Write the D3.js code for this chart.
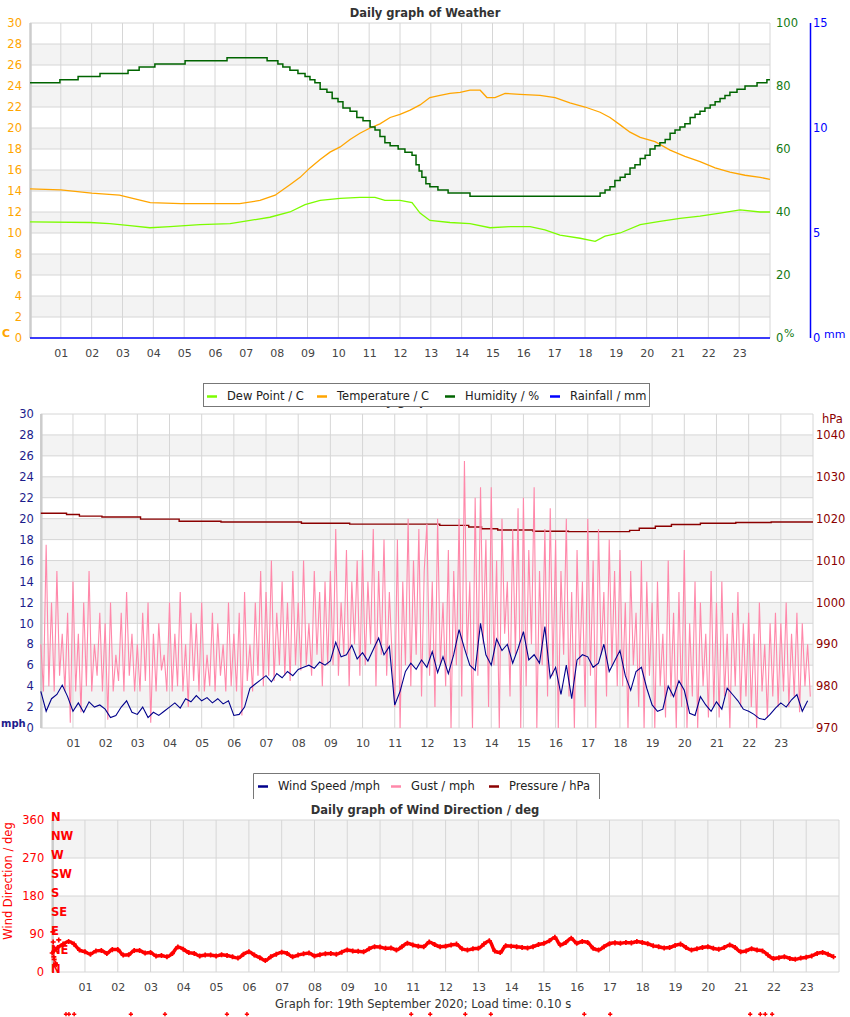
<!DOCTYPE html>
<html><head><meta charset="utf-8">
<script src="https://cdn.jsdelivr.net/npm/d3@7"></script>
<style>body{margin:0;background:#fff}svg{display:block}text{font-family:"DejaVu Sans",sans-serif}</style>
</head><body>
<svg id="c" width="850" height="1017"></svg>
<script>
// ---------- DATA ----------
const hourLabels = ["01","02","03","04","05","06","07","08","09","10","11","12","13","14","15","16","17","18","19","20","21","22","23"];
const hourTicks = [1,2,3,4,5,6,7,8,9,10,11,12,13,14,15,16,17,18,19,20,21,22,23];

// Weather chart
const tempTicks = [0,2,4,6,8,10,12,14,16,18,20,22,24,26,28,30];
const humTicks = [0,20,40,60,80,100];
const rainTicks = [0,5,10,15];

const tempHours = [0,1,2,2.9,3.6,3.9,4.9,5.8,6.8,7.46,7.95,8.43,8.76,9.08,9.41,9.73,10.06,10.38,10.7,11.03,11.35,11.68,12.0,12.33,12.65,12.97,13.3,13.62,13.95,14.27,14.6,14.82,15.08,15.41,15.89,16.54,17.03,17.51,18.0,18.49,18.81,19.14,19.46,19.79,20.27,20.76,21.24,21.73,22.22,22.7,23.19,23.68,24];
const tempValues = [14.2,14.1,13.8,13.6,13.1,12.9,12.8,12.8,12.8,13.1,13.6,14.6,15.3,16.2,17.0,17.7,18.2,18.9,19.5,20.0,20.4,21.0,21.3,21.7,22.2,22.9,23.1,23.3,23.4,23.6,23.6,22.9,22.9,23.3,23.2,23.1,22.9,22.4,22.0,21.5,21.0,20.3,19.6,19.1,18.7,17.9,17.3,16.8,16.2,15.8,15.5,15.3,15.1];

const dewHours = [0,1.95,2.59,3.24,3.89,4.54,5.51,6.49,7.14,7.78,8.43,8.92,9.41,10.06,10.7,11.19,11.51,12.0,12.39,12.65,12.97,13.62,14.27,14.92,15.57,16.22,16.7,17.19,17.84,18.33,18.65,19.14,19.79,20.43,21.08,21.73,22.38,23.03,23.68,24];
const dewValues = [11.05,11.0,10.9,10.7,10.5,10.6,10.8,10.9,11.2,11.5,12.0,12.7,13.1,13.3,13.4,13.4,13.1,13.1,12.9,11.9,11.2,11.0,10.9,10.5,10.6,10.6,10.3,9.8,9.5,9.2,9.7,10.0,10.8,11.1,11.4,11.6,11.9,12.2,12.0,12.0];

const humHours = [0,0.97,1.56,2.27,3.18,3.54,4.05,5.03,6.39,7.69,8.04,8.2,8.43,8.69,8.92,9.08,9.24,9.41,9.63,9.8,9.99,10.15,10.38,10.6,10.8,11.03,11.19,11.35,11.51,11.68,11.94,12.16,12.39,12.52,12.62,12.71,12.84,12.97,13.23,13.56,14.27,18.49,18.65,18.81,18.97,19.14,19.3,19.46,19.62,19.79,19.95,20.11,20.27,20.43,20.6,20.76,20.92,21.08,21.24,21.41,21.57,21.73,21.89,22.06,22.22,22.38,22.54,22.7,22.93,23.19,23.58,23.9,24];
const humValues = [81,82,83,84,85,86,87,88,89,88,87,86,85,84,83,82,81,79,78,76,75,73,72,70,69,67,66,64,62,61,60,59,58,55,53,51,49,48,47,46,45,46,47,48,50,51,52,54,55,57,58,60,61,62,63,65,66,67,68,70,71,72,73,74,75,76,77,78,79,80,81,82,82];

const rainHours = [0,24];
const rainValues = [0,0];

// Wind chart
const speedTicks = [0,2,4,6,8,10,12,14,16,18,20,22,24,26,28,30];
const pressTicks = [970,980,990,1000,1010,1020,1030,1040];

// wind speed, one reading every 10 minutes
const windSpeed = [
 3.5,1.6,2.8,3.2,4.1,3.0,
 1.6,2.4,1.5,2.5,2.0,2.2,
 1.8,1.0,1.2,2.0,2.6,1.5,
 1.3,2.0,1.0,1.5,1.2,1.6,
 2.0,2.4,1.9,2.8,2.5,3.1,
 2.6,2.9,2.4,2.8,2.3,2.6,
 1.2,1.3,2.0,3.8,4.2,4.6,
 5.0,4.4,5.2,4.8,5.4,5.0,
 5.6,5.8,6.0,5.7,6.3,6.0,
 6.4,8.2,6.8,7.0,7.9,6.6,
 7.2,6.4,7.5,8.6,7.0,7.8,
 2.2,3.5,5.4,6.2,5.6,6.5,
 5.8,7.3,5.3,6.8,5.2,7.0,
 9.4,7.6,6.0,5.5,10.0,7.0,
 6.0,8.5,7.4,8.0,6.2,7.6,
 9.2,6.5,7.0,6.2,9.7,4.8,
 5.8,3.2,6.0,2.8,6.5,7.0,
 6.8,5.8,6.2,8.0,5.4,6.4,
 7.4,5.0,3.6,5.4,5.8,3.8,
 2.2,1.6,1.8,4.0,3.0,4.5,
 3.6,1.4,1.2,3.0,2.2,1.6,
 2.5,1.8,3.8,3.2,2.6,1.8,
 1.6,1.3,0.9,0.8,1.3,1.9,
 2.4,2.0,2.7,3.2,1.6,2.6];

// gust, one reading every 5 minutes
const gust = [
 8,3.5,17.5,4,12,3.5,15,5,9,3.5,11,0.5,
 14,3.5,9,1.5,12,4,15,3.5,8,5,11,3.5,
 10,0.8,12,3.5,7,4.5,11,3.5,13,5,9,3.5,
 8,3.5,11,4.5,12,0.5,9,3.5,10,5.5,7,3.5,
 12,3.5,9,4,13,3.5,8,2,11,4.5,10,3.5,
 12,3.5,7,4,11,3.5,10,5,8,3.5,12,4,
 9,3.5,11,1.2,13,4.5,8,3.5,12,5,15,4,
 13,5,16,4.5,11,6,14,5,12,4.5,15,6,
 12,5.5,16,6,10,5,15,7,13,4,14,6,
 15,6,19,5,12,7,17,4,14,8,16,5,
 17,6,14,8,19,4,15,7,18,5,13,7,
 2,18,0,14,6,20,4,16,7,19,3,15,
 19.5,5,14,2,20,6,12,4,17,0,15,6,
 20,3,25.5,7,14,0,22,5,23,8,18,2,
 23,6,16,0,20,9,14,3,19,7,21,0,
 22,4,17,8,23,0,15,6,19,3,21,5,
 18,0,15,7,20,3,13,0,17,6,14,2,
 20,5,16,0,19,7,13,3,18,6,15,4,
 17,4,12,0,15,6,11,2,16,0,14,5,
 12,0,14,4,9,1,16,3,11,0,13,2,
 17,0,10,3,14,0,12,4,9,1,15,2,
 12,1,14,3,9,0,11,4,13,2,10,3,
 11,2,9,0,12,3.5,8,1,10,3,11,2,
 10,3.5,12,2,9,3,11,1.5,10,4,8,3];

const pressHours = [0,0.8,1.2,1.9,3.1,4.3,5.6,6.8,8.1,9.6,11.2,12.4,13.3,13.7,14.2,15.3,16.4,17.4,18.3,18.6,19.1,19.6,20.5,21.6,22.7,24];
const pressValues = [1021.3,1021.0,1020.6,1020.4,1019.9,1019.4,1019.2,1019.2,1018.9,1018.7,1018.7,1018.4,1018.0,1017.6,1017.3,1017.0,1016.9,1016.9,1017.2,1017.7,1018.2,1018.6,1018.9,1019.1,1019.2,1019.2];

// Wind direction chart
const dirTicks = [0,90,180,270,360];
const compassLabels = ["N","NE","E","SE","S","SW","W","NW","N"];
const compassDegrees = [0,45,90,135,180,225,270,315,360];
// wind direction, one reading every 10 minutes
const windDir = [
 45,58,66,72,66,52,
 48,42,50,51,44,53,
 53,40,41,51,51,45,
 46,38,39,36,44,59,
 54,46,44,38,40,40,
 38,41,39,36,33,42,
 48,40,34,27,36,42,
 47,44,36,40,43,45,
 38,41,43,44,42,47,
 52,50,49,48,55,60,
 59,56,57,52,60,68,
 64,61,60,71,65,60,
 61,64,66,55,52,55,
 56,66,74,50,46,62,
 61,60,58,57,60,65,
 68,74,82,64,70,80,
 68,72,70,56,52,60,
 67,69,68,70,69,72,
 70,67,62,60,57,58,
 63,66,58,52,55,58,
 60,56,54,58,64,58,
 48,50,55,52,50,40,
 32,34,36,32,30,33,
 35,38,44,46,42,36];
const dirStartHours = [0.02,0.03,0.05,0.06,0.1,0.12,0.2];
const dirStartValues = [95,71,36,30,21,17,76];
const dirOutlierHours = [0.42,0.51,0.67,2.40,3.44,5.33,5.94,10.95,11.53,12.6,13.38,16.23,17.02,21.29,21.6,21.75,21.96];
const dirOutlierValue = -100;

// ---------- DRAW ----------
const svg = d3.select("#c");
const GRID = "#d6d6d6", BAND = "#f3f3f3";

function panel(g, x, y, ticks, bandPairs, xl, xr) {
  bandPairs.forEach(([a,b]) => {
    g.append("rect").attr("x", xl).attr("width", xr-xl)
      .attr("y", y(b)).attr("height", y(a)-y(b)).attr("fill", BAND);
  });
  ticks.forEach(t => g.append("line").attr("x1", xl).attr("x2", xr)
    .attr("y1", y(t)).attr("y2", y(t)).attr("stroke", GRID).attr("stroke-width", 1));
  hourTicks.forEach(h => g.append("line").attr("x1", x(h)).attr("x2", x(h))
    .attr("y1", y.range()[1]).attr("y2", y.range()[0]).attr("stroke", GRID).attr("stroke-width", 1));
  g.append("line").attr("x1", xr).attr("x2", xr).attr("y1", y.range()[1]).attr("y2", y.range()[0]).attr("stroke", GRID);
  g.append("line").attr("x1", xl+0.5).attr("x2", xl+0.5).attr("y1", y.range()[1]).attr("y2", y.range()[0]).attr("stroke", "#cccccc").attr("stroke-width", 2.5);
}

function hourAxis(g, x, yPos) {
  const ax = d3.axisBottom(x).tickValues(hourTicks).tickFormat((d,i) => hourLabels[i]).tickSize(0).tickPadding(0);
  const a = g.append("g").attr("transform", `translate(0,${yPos})`).call(ax);
  a.select(".domain").remove();
  a.selectAll("text").attr("fill", "#444").attr("font-size", 11).attr("dy", "0.35em")
    .attr("font-family", "DejaVu Sans, sans-serif");
}

function sideAxis(g, axisFn, scale, ticks, xPos, color, pad, fmt) {
  const ax = axisFn(scale).tickValues(ticks).tickSize(0).tickPadding(pad).tickFormat(fmt || d3.format("d"));
  const a = g.append("g").attr("transform", `translate(${xPos},0)`).call(ax);
  a.select(".domain").remove();
  a.selectAll("text").attr("fill", color).attr("font-size", 11.5).attr("font-family", "DejaVu Sans, sans-serif");
  return a;
}

function title(txt, y) {
  svg.append("text").attr("x", 425).attr("y", y).attr("text-anchor", "middle")
    .attr("font-family", "DejaVu Sans Mono, monospace").attr("font-weight", "bold")
    .attr("font-size", 11.5).attr("fill", "#333").text(txt);
}

// ===== Weather chart =====
const x1 = d3.scaleLinear([0,24],[30,770]);
const yT = d3.scaleLinear([0,30],[338,23]);
const yH = d3.scaleLinear([0,100],[338,23]);
const yR = d3.scaleLinear([0,15],[338,23]);
const g1 = svg.append("g");
panel(g1, x1, yT, tempTicks, [[2,4],[6,8],[10,12],[14,16],[18,20],[22,24],[26,28]], 30, 770);
title("Daily graph of Weather", 17);
hourAxis(g1, x1, 353);
sideAxis(g1, d3.axisLeft, yT, tempTicks, 30, "#FFA500", 8);
sideAxis(g1, d3.axisRight, yH, humTicks, 770, "#137a13", 6);
sideAxis(g1, d3.axisRight, yR, rainTicks, 810, "#0000FF", 3);
g1.append("line").attr("x1", 810.5).attr("x2", 810.5).attr("y1", 23).attr("y2", 338).attr("stroke", "#0000FF").attr("stroke-width", 1.5);
g1.append("text").attr("x", 2).attr("y", 337).attr("fill", "#FFA500").attr("font-weight", "bold").attr("font-size", 11)
  .attr("font-family", "DejaVu Sans Mono, monospace").text("C");
g1.append("text").attr("x", 784).attr("y", 337).attr("fill", "#137a13").attr("font-size", 11).text("%");
g1.append("text").attr("x", 824).attr("y", 338).attr("fill", "#0000FF").attr("font-size", 11).text("mm");

g1.append("path").attr("d", d3.line().x((d,i) => x1(dewHours[i])).y(d => yT(d))(dewValues))
  .attr("fill","none").attr("stroke","#7CFC00").attr("stroke-width",1.3);
g1.append("path").attr("d", d3.line().x((d,i) => x1(tempHours[i])).y(d => yT(d))(tempValues))
  .attr("fill","none").attr("stroke","#FFA500").attr("stroke-width",1.3);
g1.append("path").attr("d", d3.line().x((d,i) => x1(humHours[i])).y(d => yH(d)).curve(d3.curveStepAfter)(humValues))
  .attr("fill","none").attr("stroke","#006400").attr("stroke-width",1.5);
g1.append("path").attr("d", d3.line().x((d,i) => x1(rainHours[i])).y(d => yR(d))(rainValues))
  .attr("fill","none").attr("stroke","#0000FF").attr("stroke-width",1.5);

// ===== Wind chart =====
const x2 = d3.scaleLinear([0,24],[40.8,813]);
const yS = d3.scaleLinear([0,30],[728,414]);
const yP = d3.scaleLinear([970,1045],[728,414]);
const g2 = svg.append("g");
panel(g2, x2, yS, speedTicks, [[2,4],[6,8],[10,12],[14,16],[18,20],[22,24],[26,28]], 40.8, 813);
title("Daily graph of Wind", 405);
hourAxis(g2, x2, 743);
sideAxis(g2, d3.axisLeft, yS, speedTicks, 40.8, "#1c1c8c", 7);
sideAxis(g2, d3.axisRight, yP, pressTicks, 813, "#8B0000", 3);
g2.append("text").attr("x", 822).attr("y", 423).attr("fill", "#8B0000").attr("font-size", 11.5).text("hPa");
g2.append("text").attr("x", 1).attr("y", 727).attr("fill", "#1c1c8c").attr("font-weight", "bold").attr("font-size", 10)
  .attr("font-family", "DejaVu Sans Mono, monospace").text("mph");

g2.append("path").attr("d", d3.line().x((d,i) => x2(pressHours[i])).y(d => yP(d)).curve(d3.curveStepAfter)(pressValues))
  .attr("fill","none").attr("stroke","#8B0000").attr("stroke-width",1.4);
g2.append("path").attr("d", d3.line().x((d,i) => x2(i/12)).y(d => yS(d))(gust))
  .attr("fill","none").attr("stroke","#FF88AA").attr("stroke-width",1.1);
g2.append("path").attr("d", d3.line().x((d,i) => x2(i/6)).y(d => yS(d))(windSpeed))
  .attr("fill","none").attr("stroke","#00008B").attr("stroke-width",1.1);

// ===== Legends =====
function legend(items, x0, y0, w, h, open) {
  const g = svg.append("g");
  g.append("rect").attr("x", x0).attr("y", y0).attr("width", w).attr("height", h).attr("fill", "#fff");
  if (open) {
    g.append("path").attr("d", `M${x0+0.5},${y0+h} V${y0+0.5} H${x0+w-0.5} V${y0+h}`).attr("fill","none").attr("stroke","#777");
  } else {
    g.append("rect").attr("x", x0+0.5).attr("y", y0+0.5).attr("width", w-1).attr("height", h-1).attr("fill","none").attr("stroke","#777");
  }
  items.forEach(it => {
    g.append("line").attr("x1", it.x).attr("x2", it.x+10).attr("y1", y0+13.5).attr("y2", y0+13.5).attr("stroke", it.c).attr("stroke-width", 2.5);
    g.append("text").attr("x", it.x+20).attr("y", y0+13).attr("dy", "0.35em").attr("font-size", 11.5).attr("fill", "#222").text(it.t);
  });
}
legend([{x:207,c:"#7CFC00",t:"Dew Point / C"},{x:317,c:"#FFA500",t:"Temperature / C"},{x:445,c:"#006400",t:"Humidity / %"},{x:550,c:"#0000FF",t:"Rainfall / mm"}], 203, 383, 447, 24, false);
legend([{x:258,c:"#00008B",t:"Wind Speed /mph"},{x:391,c:"#FF88AA",t:"Gust / mph"},{x:489,c:"#8B0000",t:"Pressure / hPa"}], 253, 773, 347, 26, true);

// ===== Wind direction chart =====
const x3 = d3.scaleLinear([0,24],[52.2,839]);
const yD = d3.scaleLinear([0,360],[972,820]);
const g3 = svg.append("g");
panel(g3, x3, yD, dirTicks, [[90,180],[270,360]], 52.2, 839);
title("Daily graph of Wind Direction / deg", 814);
hourAxis(g3, x3, 987);
sideAxis(g3, d3.axisLeft, yD, dirTicks, 52.2, "#FF0000", 8);
g3.append("text").attr("transform", "translate(12,881) rotate(-90)").attr("text-anchor", "middle")
  .attr("fill", "#FF0000").attr("font-size", 11.5).text("Wind Direction / deg");
compassLabels.forEach((c,i) => g3.append("text").attr("x", 51).attr("y", yD(compassDegrees[i]) + 1)
  .attr("fill", "#FF0000").attr("font-weight", "bold").attr("font-size", 11.5)
  .attr("font-family", "DejaVu Sans Mono, monospace").text(c));

g3.append("path").attr("d", d3.line().x((d,i) => x3(i/6)).y(d => yD(d)).curve(d3.curveMonotoneX)(windDir))
  .attr("fill","none").attr("stroke","#FF0000").attr("stroke-width",3.5);
const cross = d3.symbol().type(d3.symbolCross).size(14);
windDir.forEach((d,i) => g3.append("path").attr("d", cross()).attr("fill","#FF0000")
  .attr("transform", `translate(${x3(i/6)},${yD(d)})`));
dirStartValues.forEach((d,i) => g3.append("path").attr("d", cross()).attr("fill","#FF0000")
  .attr("transform", `translate(${x3(dirStartHours[i])},${yD(d)})`));
dirOutlierHours.forEach(h => g3.append("path").attr("d", d3.symbol().type(d3.symbolCross).size(10)()).attr("fill","#FF0000")
  .attr("transform", `translate(${x3(h)},${yD(dirOutlierValue)})`));

svg.append("text").attr("x", 275).attr("y", 1008).attr("font-size", 11.5).attr("fill", "#333")
  .text("Graph for: 19th September 2020; Load time: 0.10 s");
</script>
</body></html>
